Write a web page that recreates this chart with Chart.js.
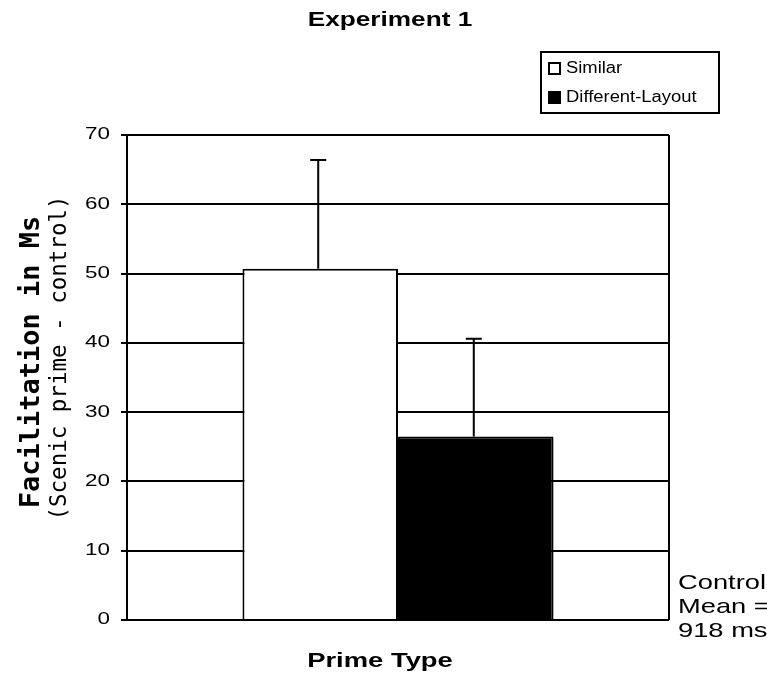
<!DOCTYPE html>
<html>
<head>
<meta charset="utf-8">
<script src="https://cdn.jsdelivr.net/npm/chart.js@4"></script>
<style>
  html, body { margin: 0; padding: 0; background: #fff; }
  #wrap { width: 767px; height: 677px; position: relative; }
</style>
</head>
<body>
<div id="wrap"><canvas id="chart"></canvas></div>
<script>
// Data
const categories = ['Prime Type'];
const seriesNames = ['Similar', 'Different-Layout'];
const similarValues = [50.7];
const differentValues = [26.5];
const similarErrors = [15.7];
const differentErrors = [14.1];
const yTicks = [0, 10, 20, 30, 40, 50, 60, 70];

const SANS = '"Liberation Sans", Arial, sans-serif';
const MONO = '"DejaVu Sans Mono", monospace';

// the scanned figure is stretched sideways, so text gets a horizontal scale
function wideText(ctx, text, x, y, sx, align) {
    ctx.save();
    ctx.translate(x, y);
    ctx.scale(sx, 1);
    ctx.textAlign = align;
    ctx.fillText(text, 0, 0);
    ctx.restore();
}

const extrasPlugin = {
    id: 'extras',
    afterDatasetsDraw(chart) {
        const ctx = chart.ctx;
        const y = chart.scales.y;
        const errs = [similarErrors, differentErrors];
        ctx.save();
        ctx.strokeStyle = '#000';
        ctx.lineWidth = 2;
        chart.data.datasets.forEach((ds, i) => {
            const meta = chart.getDatasetMeta(i);
            meta.data.forEach((bar, j) => {
                const top = y.getPixelForValue(ds.data[j] + errs[i][j]);
                const x = bar.x - 2;
                ctx.beginPath();
                ctx.moveTo(x, bar.y);
                ctx.lineTo(x, top);
                ctx.moveTo(x - 8, top);
                ctx.lineTo(x + 8, top);
                ctx.stroke();
            });
        });

        // right border of the plot
        const a = chart.chartArea;
        ctx.beginPath();
        ctx.moveTo(a.right, a.top);
        ctx.lineTo(a.right, a.bottom);
        ctx.stroke();
        ctx.restore();
    },
    afterDraw(chart) {
        const ctx = chart.ctx;
        const y = chart.scales.y;
        ctx.save();
        ctx.fillStyle = '#000';
        ctx.textBaseline = 'middle';

        // y tick labels, placed by the scale
        ctx.font = '16px ' + SANS;
        y.ticks.forEach((t, i) => {
            wideText(ctx, String(t.value), 110, y.getPixelForTick(i), 1.4, 'right');
        });

        ctx.font = 'bold 20px ' + SANS;
        wideText(ctx, 'Experiment 1', 390, 20, 1.31, 'center');
        wideText(ctx, categories[0], 380, 661, 1.37, 'center');

        ctx.font = '21px ' + SANS;
        wideText(ctx, 'Control', 678, 583, 1.3, 'left');
        wideText(ctx, 'Mean =', 678, 607, 1.3, 'left');
        wideText(ctx, '918 ms', 678, 631, 1.3, 'left');

        // legend
        ctx.lineWidth = 2;
        ctx.strokeStyle = '#000';
        ctx.strokeRect(541, 52, 178, 61);
        ctx.strokeRect(549, 63, 11, 11);
        ctx.fillRect(548, 91, 13, 13);
        ctx.font = '16px ' + SANS;
        wideText(ctx, seriesNames[0], 566, 69, 1.15, 'left');
        wideText(ctx, seriesNames[1], 566, 98, 1.15, 'left');

        // rotated y title
        ctx.translate(32, 362);
        ctx.rotate(-Math.PI / 2);
        ctx.textAlign = 'center';
        ctx.font = 'bold 27px ' + MONO;
        ctx.fillText('Facilitation in Ms', 0, 0);
        ctx.font = '22.5px ' + MONO;
        ctx.fillText('(Scenic prime - control)', 4, 28);
        ctx.restore();
    }
};

new Chart(document.getElementById('chart'), {
    type: 'bar',
    data: {
        labels: categories,
        datasets: [{
            label: seriesNames[0],
            data: similarValues,
            backgroundColor: '#fff',
            borderColor: '#000',
            borderWidth: 2
        }, {
            label: seriesNames[1],
            data: differentValues,
            backgroundColor: '#000',
            borderColor: '#000',
            borderWidth: 2
        }]
    },
    options: {
        responsive: true,
        maintainAspectRatio: false,
        animation: false,
        categoryPercentage: 0.574,
        barPercentage: 1.0,
        layout: { padding: { top: 135, right: 98, bottom: 57, left: 0 } },
        plugins: {
            legend: { display: false },
            title: { display: false },
            tooltip: { enabled: false }
        },
        scales: {
            x: {
                display: false
            },
            y: {
                min: 0,
                max: 70,
                afterFit(scale) { scale.width = 127; },
                afterBuildTicks(scale) { scale.ticks = yTicks.map(v => ({ value: v })); },
                grid: { color: '#000', lineWidth: 2, tickLength: 6, drawTicks: true },
                border: { color: '#000', width: 2 },
                ticks: {
                    color: 'rgba(0,0,0,0)',
                    padding: 10,
                    font: { family: SANS, size: 15 }
                }
            }
        }
    },
    plugins: [extrasPlugin]
});
</script>
</body>
</html>
